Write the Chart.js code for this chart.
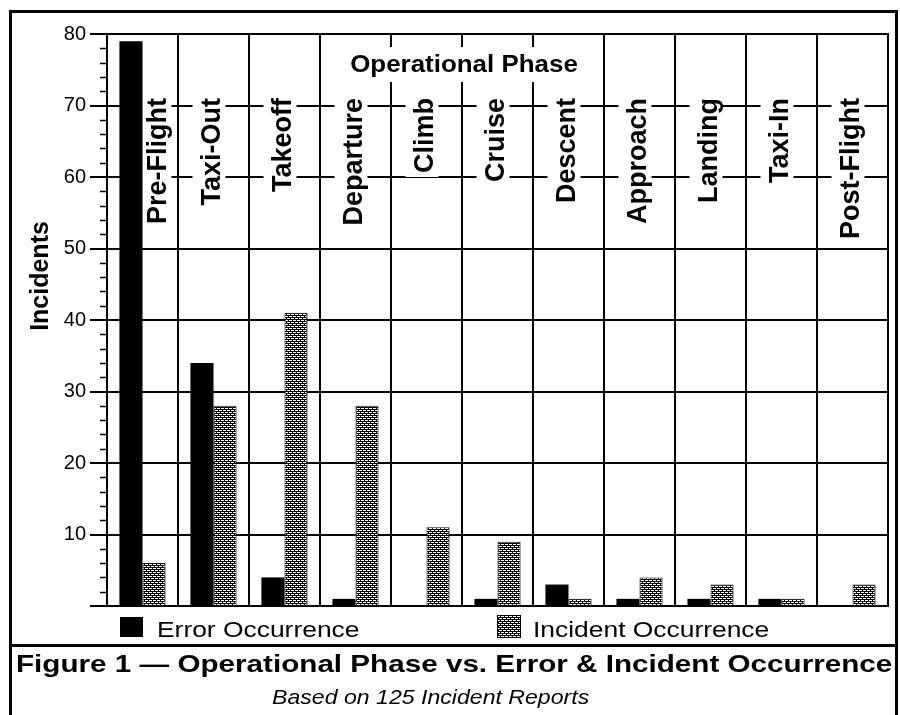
<!DOCTYPE html>
<html>
<head>
<meta charset="utf-8">
<script src="https://cdn.jsdelivr.net/npm/chart.js@4.4.1/dist/chart.umd.min.js"></script>
<style>
    body { margin: 0; background: #fff; }
    #wrap { position: relative; width: 900px; height: 715px; overflow: hidden; }
    #myChart { position: absolute; left: 0; top: 0; }
    .cap { position: absolute; white-space: nowrap; color: #000; font-family: 'Liberation Sans', Arial, sans-serif; transform-origin: 0 0; }
    #caption { left: 16px; top: 652px; font-size: 24px; line-height: 24px; font-weight: bold; transform: scaleX(1.235); }
    #subcaption { left: 272px; top: 686px; font-size: 21px; line-height: 21px; font-style: italic; transform: scaleX(1.1); }
</style>
</head>
<body>
<div id="wrap">
    <canvas id="myChart" width="900" height="715"></canvas>
    <div class="cap" id="caption">Figure 1 — Operational Phase vs. Error &amp; Incident Occurrence</div>
    <div class="cap" id="subcaption">Based on 125 Incident Reports</div>
</div>
<script>
const phases = ['Pre-Flight', 'Taxi-Out', 'Takeoff', 'Departure', 'Climb', 'Cruise', 'Descent', 'Approach', 'Landing', 'Taxi-In', 'Post-Flight'];
const errorOccurrence = [79, 34, 4, 1, 0, 1, 3, 1, 1, 1, 0];
const incidentOccurrence = [6, 28, 41, 28, 11, 9, 1, 4, 3, 1, 3];
const seriesNames = ['Error Occurrence', 'Incident Occurrence'];
const axisTitle = 'Incidents';
const phaseTitle = 'Operational Phase';
const yMin = 0, yMax = 80, yStep = 10, yMinorStep = 2;

const FONT = '"Liberation Sans", Arial, sans-serif';

function makeHatch() {
    var c = document.createElement('canvas');
    c.width = 4;
    c.height = 4;
    var g = c.getContext('2d');
    g.fillStyle = '#fff';
    g.fillRect(0, 0, 4, 4);
    g.fillStyle = '#000';
    for (var yy = 0; yy < 4; yy++) {
        for (var xx = 0; xx < 4; xx++) {
            var a = (xx + yy) % 4 < 2;
            var b = (xx - yy + 8) % 4 < 2;
            if (a != b || (xx + yy) % 4 == 0) g.fillRect(xx, yy, 1, 1);
        }
    }
    return document.getElementById('myChart').getContext('2d').createPattern(c, 'repeat');
}

var hatch = makeHatch();

// labels, title boxes and minor ticks sit on top of the grid but under the bars
const decorations = {
    id: 'decorations',
    beforeDatasetsDraw(chart) {
        const ctx = chart.ctx;
        const x = chart.scales.x;
        const y = chart.scales.y;
        const area = chart.chartArea;

        ctx.save();
        // minor ticks
        ctx.strokeStyle = '#000';
        ctx.lineWidth = 1.5;
        for (var v = yMin + yMinorStep; v < yMax; v += yMinorStep) {
            if (v % yStep == 0) continue;
            var py = Math.round(y.getPixelForValue(v)) + 0.5;
            ctx.beginPath();
            ctx.moveTo(area.left - 7, py);
            ctx.lineTo(area.left, py);
            ctx.stroke();
        }

        // phase heading
        ctx.fillStyle = '#fff';
        ctx.fillRect(328, 47, 268, 35);
        ctx.save();
        ctx.translate(464, 72);
        ctx.scale(1.08, 1);
        ctx.fillStyle = '#000';
        ctx.font = 'bold 24px ' + FONT;
        ctx.textAlign = 'center';
        ctx.textBaseline = 'alphabetic';
        ctx.fillText(phaseTitle, 0, 0);
        ctx.restore();

        // rotated category labels
        ctx.font = 'bold 27px ' + FONT;
        phases.forEach(function (name, i) {
            var cx = x.getPixelForValue(i) + (i == 0 ? 15 : -2);
            var w = ctx.measureText(name).width;
            ctx.save();
            ctx.translate(cx, 98);
            ctx.rotate(-Math.PI / 2);
            ctx.fillStyle = '#fff';
            ctx.fillRect(-w - 4, -19, w + 8, 33);
            ctx.fillStyle = '#000';
            ctx.textAlign = 'right';
            ctx.textBaseline = 'middle';
            ctx.fillText(name, 0, 1);
            ctx.restore();
        });

        // y axis title
        ctx.save();
        ctx.translate(40, 276);
        ctx.rotate(-Math.PI / 2);
        ctx.fillStyle = '#000';
        ctx.font = 'bold 25px ' + FONT;
        ctx.textAlign = 'center';
        ctx.textBaseline = 'middle';
        ctx.fillText(axisTitle, 0, 1);
        ctx.restore();
        ctx.restore();
    },
    afterDraw(chart) {
        const ctx = chart.ctx;
        const area = chart.chartArea;
        ctx.save();
        ctx.strokeStyle = '#000';
        ctx.lineWidth = 2;
        ctx.strokeRect(area.left, area.top, area.right - area.left, area.bottom - area.top);

        // legend
        var ds = chart.data.datasets;
        ctx.fillStyle = ds[0].backgroundColor;
        ctx.fillRect(120, 617, 23, 20);
        ctx.fillStyle = ds[1].backgroundColor;
        ctx.fillRect(497, 615, 24, 23);
        ctx.lineWidth = 1;
        ctx.strokeRect(497.5, 615.5, 23, 22);
        ctx.fillStyle = '#000';
        ctx.font = '22px ' + FONT;
        ctx.textBaseline = 'alphabetic';
        [[157, ds[0].label], [533, ds[1].label]].forEach(function (item) {
            ctx.save();
            ctx.translate(item[0], 637);
            ctx.scale(1.2, 1);
            ctx.fillText(item[1], 0, 0);
            ctx.restore();
        });

        // figure frame and divider
        ctx.lineWidth = 3;
        ctx.beginPath();
        ctx.moveTo(10.5, 715);
        ctx.lineTo(10.5, 11.5);
        ctx.lineTo(896.5, 11.5);
        ctx.lineTo(896.5, 715);
        ctx.moveTo(10, 645.5);
        ctx.lineTo(897, 645.5);
        ctx.stroke();
        ctx.restore();
    }
};

function createChart(ctx) {
    return new Chart(ctx, {
        type: 'bar',
        data: {
            labels: phases,
            datasets: [{
                label: seriesNames[0],
                data: errorOccurrence,
                backgroundColor: '#000000',
                borderWidth: 0
            }, {
                label: seriesNames[1],
                data: incidentOccurrence,
                backgroundColor: hatch,
                borderColor: '#000000',
                borderWidth: 1
            }]
        },
        options: {
            responsive: false,
            animation: false,
            events: [],
            barPercentage: 1.0,
            categoryPercentage: 0.65,
            layout: {
                padding: { left: 0, top: 34, right: 12, bottom: 109 }
            },
            scales: {
                x: {
                    offset: true,
                    ticks: { display: false },
                    grid: {
                        offset: true,
                        color: '#000000',
                        lineWidth: 2,
                        drawTicks: false
                    },
                    border: { color: '#000000', width: 2 },
                    afterFit: function (scale) { scale.height = 0; }
                },
                y: {
                    min: yMin,
                    max: yMax,
                    ticks: {
                        stepSize: yStep,
                        padding: 4,
                        color: '#000000',
                        font: { size: 20, family: FONT },
                        callback: function (v) { return v == 0 ? '' : v; }
                    },
                    grid: {
                        color: '#000000',
                        lineWidth: 2,
                        tickLength: 17
                    },
                    border: { color: '#000000', width: 2 },
                    afterFit: function (scale) { scale.width = 107; }
                }
            },
            plugins: {
                legend: { display: false },
                tooltip: { enabled: false }
            }
        },
        plugins: [decorations]
    });
}

var myChart = createChart(document.getElementById('myChart'));
</script>
</body>
</html>
